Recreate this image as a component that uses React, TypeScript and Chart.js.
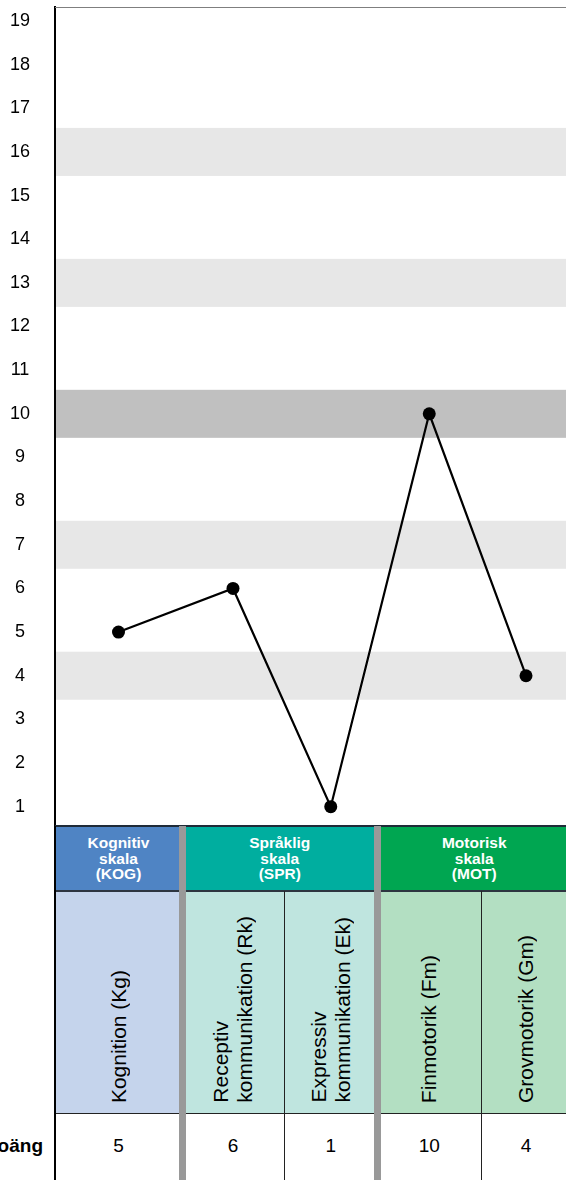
import React, { useEffect, useRef } from "react";
import { Chart, registerables } from "chart.js";

Chart.register(...registerables);

// ---------- data ----------
const categories = [
  "Kognition (Kg)",
  "Receptiv\nkommunikation (Rk)",
  "Expressiv\nkommunikation (Ek)",
  "Finmotorik (Fm)",
  "Grovmotorik (Gm)",
];
const scaleScores = [5, 6, 1, 10, 4];
const scaleGroups = ["Kognitiv\nskala\n(KOG)", "Språklig\nskala\n(SPR)", "Motorisk\nskala\n(MOT)"];
const groupSpans = [1, 2, 2];
const yTickValues = [1, 2, 3, 4, 5, 6, 7, 8, 9, 10, 11, 12, 13, 14, 15, 16, 17, 18, 19];
const bandValues = [4, 7, 10, 13, 16];
const meanValue = 10;
const rowLabel = "Skalpoäng";

// ---------- layout / style ----------
const FONT = "'Liberation Sans', Arial, Helvetica, sans-serif";
const PAGE_W = 566;
const PAGE_H = 1180;
const PLOT_LEFT = 55;
const PLOT_TOP = 7;
const PLOT_BOTTOM = 826.5;
const CANVAS_H = 830;
const colWidths = [127, 102, 93.5, 103.5, 90];
const Y_MIN = 0.546;
const Y_MAX = 19.32;
const BAND_HALF = 0.55;
const HEADER_TOP = 826;
const HEADER_BOTTOM = 891;
const BODY_BOTTOM = 1113;
const groupColors = ["#4f84c4", "#00ae9f", "#00a651"];
const groupLight = ["#c5d4ec", "#bfe5df", "#b3dfc2"];

const totalWidth = colWidths.reduce((a, b) => a + b, 0);
const colEdges: number[] = [0];
colWidths.forEach((w) => colEdges.push(colEdges[colEdges.length - 1] + w));
const colCenters = colWidths.map((w, i) => colEdges[i] + w / 2);
const colGroup: number[] = [];
groupSpans.forEach((s, g) => {
  for (let k = 0; k < s; k++) colGroup.push(g);
});
const groupStart: number[] = [];
{
  let c = 0;
  groupSpans.forEach((s) => {
    groupStart.push(c);
    c += s;
  });
}

const bandPlugin = {
  id: "bands",
  beforeDraw(chart: any) {
    const { ctx, chartArea, scales } = chart;
    const y = scales.y;
    ctx.save();
    bandValues.forEach((v) => {
      const y1 = y.getPixelForValue(v + BAND_HALF);
      const y2 = y.getPixelForValue(v - BAND_HALF);
      ctx.fillStyle = v === meanValue ? "#c0c0c0" : "#e7e7e7";
      ctx.fillRect(chartArea.left, y1, chartArea.right - chartArea.left, y2 - y1);
    });
    ctx.restore();
  },
  afterDraw(chart: any) {
    const { ctx, chartArea } = chart;
    ctx.save();
    ctx.strokeStyle = "#7f7f7f";
    ctx.lineWidth = 1;
    ctx.beginPath();
    ctx.moveTo(chartArea.left, chartArea.top + 0.5);
    ctx.lineTo(chartArea.right, chartArea.top + 0.5);
    ctx.stroke();
    ctx.restore();
  },
};

function ScoreChart() {
  const ref = useRef<HTMLCanvasElement | null>(null);
  useEffect(() => {
    if (!ref.current) return;
    const chart = new Chart(ref.current, {
      type: "line",
      data: {
        datasets: [
          {
            data: scaleScores.map((v, i) => ({ x: colCenters[i], y: v })),
            borderColor: "#000",
            borderWidth: 2.2,
            pointRadius: 6.5,
            pointBackgroundColor: "#000",
            pointBorderColor: "#000",
            pointBorderWidth: 0,
            tension: 0,
            fill: false,
          },
        ],
      },
      options: {
        animation: false,
        responsive: true,
        maintainAspectRatio: false,
        layout: {
          autoPadding: false,
          padding: { top: PLOT_TOP, bottom: CANVAS_H - PLOT_BOTTOM, left: 0, right: 0 },
        },
        plugins: { legend: { display: false }, tooltip: { enabled: false } },
        scales: {
          x: { type: "linear", display: false, min: 0, max: totalWidth },
          y: {
            type: "linear",
            min: Y_MIN,
            max: Y_MAX,
            afterBuildTicks: (s: any) => {
              s.ticks = yTickValues.map((v) => ({ value: v }));
            },
            afterFit: (s: any) => {
              s.width = PLOT_LEFT;
              s.paddingTop = 0;
              s.paddingBottom = 0;
            },
            grid: { display: false, drawTicks: false },
            border: { display: true, color: "#000", width: 2 },
            ticks: {
              crossAlign: "center",
              padding: 25,
              color: "#000",
              autoSkip: false,
              font: { family: FONT, size: 18 },
            },
          },
        },
      } as any,
      plugins: [bandPlugin],
    });
    return () => chart.destroy();
  }, []);
  return (
    <div style={{ position: "absolute", left: 0, top: 0, width: PLOT_LEFT + totalWidth, height: CANVAS_H }}>
      <canvas ref={ref} />
    </div>
  );
}

export default function App() {
  const abs = (l: number, t: number, w: number, h: number, extra: any = {}) => ({
    position: "absolute" as const,
    left: l,
    top: t,
    width: w,
    height: h,
    ...extra,
  });
  const groupBoundaryCols = groupStart.slice(1);
  const innerCols = colEdges.slice(1, -1).map((_, i) => i + 1).filter((c) => !groupBoundaryCols.includes(c));

  return (
    <div
      style={{
        position: "fixed",
        left: 0,
        top: 0,
        width: PAGE_W,
        height: PAGE_H,
        overflow: "hidden",
        background: "#fff",
        fontFamily: FONT,
      }}
    >
      <ScoreChart />

      {/* group headers */}
      {scaleGroups.map((g, gi) => {
        const s = groupStart[gi];
        const l = PLOT_LEFT + colEdges[s];
        const w = colEdges[s + groupSpans[gi]] - colEdges[s];
        return (
          <div
            key={"g" + gi}
            style={abs(l, HEADER_TOP, w, HEADER_BOTTOM - HEADER_TOP, {
              background: groupColors[gi],
              color: "#fff",
              fontWeight: "bold",
              fontSize: 15.5,
              lineHeight: "15.5px",
              whiteSpace: "pre-line",
              textAlign: "center",
              display: "flex",
              alignItems: "center",
              justifyContent: "center",
            })}
          >
            {g}
          </div>
        );
      })}

      {/* body label cells */}
      {categories.map((c, i) => (
        <div
          key={"c" + i}
          style={abs(PLOT_LEFT + colEdges[i], HEADER_BOTTOM, colWidths[i], BODY_BOTTOM - HEADER_BOTTOM, {
            background: groupLight[colGroup[i]],
            display: "flex",
            justifyContent: "center",
            alignItems: "flex-end",
            paddingBottom: 10,
            boxSizing: "border-box",
          })}
        >
          <div
            style={{
              writingMode: "vertical-rl",
              transform: "rotate(180deg)",
              whiteSpace: "pre",
              fontSize: 21,
              lineHeight: "24px",
              color: "#000",
            }}
          >
            {c}
          </div>
        </div>
      ))}

      {/* score values */}
      {scaleScores.map((v, i) => (
        <div
          key={"s" + i}
          style={abs(PLOT_LEFT + colEdges[i], BODY_BOTTOM, colWidths[i], PAGE_H - BODY_BOTTOM - 1, {
            display: "flex",
            alignItems: "center",
            justifyContent: "center",
            fontSize: 19,
            color: "#000",
          })}
        >
          {v}
        </div>
      ))}

      {/* row label (cut off at the left edge) */}
      <div
        style={abs(43 - 200, BODY_BOTTOM, 200, PAGE_H - BODY_BOTTOM - 1, {
          display: "flex",
          alignItems: "center",
          justifyContent: "flex-end",
          fontSize: 19,
          fontWeight: "bold",
          color: "#000",
          whiteSpace: "nowrap",
        })}
      >
        {rowLabel}
      </div>

      {/* horizontal rules */}
      <div style={abs(PLOT_LEFT, HEADER_TOP - 1, totalWidth, 2, { background: "#1f2b38" })} />
      <div style={abs(PLOT_LEFT, HEADER_BOTTOM - 1, totalWidth, 1.5, { background: "#2d3540" })} />
      <div style={abs(PLOT_LEFT, BODY_BOTTOM - 0.5, totalWidth, 1, { background: "#222" })} />

      {/* thin inner column lines */}
      {innerCols.map((c) => (
        <div key={"l" + c} style={abs(PLOT_LEFT + colEdges[c] - 0.5, HEADER_BOTTOM, 1, PAGE_H - HEADER_BOTTOM, { background: "#222" })} />
      ))}

      {/* thick grey separators between scales */}
      {groupBoundaryCols.map((c) => (
        <div key={"sep" + c} style={abs(PLOT_LEFT + colEdges[c] - 3.5, HEADER_TOP, 7, PAGE_H - HEADER_TOP, { background: "#999" })} />
      ))}

      {/* left axis continuation */}
      <div style={abs(PLOT_LEFT - 1, HEADER_TOP, 2, PAGE_H - HEADER_TOP, { background: "#000" })} />
    </div>
  );
}
